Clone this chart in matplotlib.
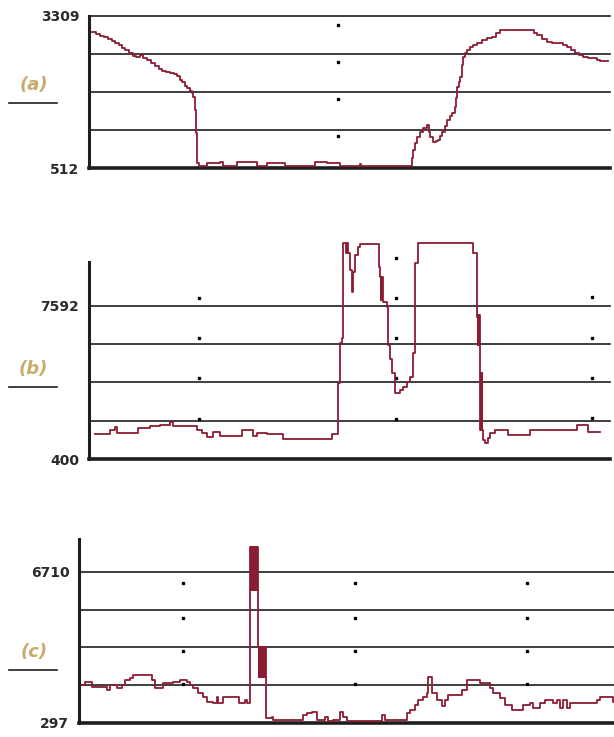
import matplotlib.pyplot as plt
from matplotlib.lines import Line2D

# ---- data (time index vs. value) ----
a_x = [3, 7, 11, 15, 19, 23, 26, 30, 33, 36, 40, 44, 47, 51, 54, 58, 62, 66, 70, 73, 77, 81, 85,
       88, 91, 93, 96, 98, 101, 103, 104, 106, 107, 108, 110,
       118, 131, 134, 148, 168, 178, 196, 226, 238, 251, 271, 272, 321,
       323, 324, 326, 328, 331, 334, 338, 340, 341, 344, 347, 349, 351, 353, 356, 358, 361, 363,
       366, 367, 368, 370, 371, 373, 374, 376, 378, 381, 384, 388, 393, 398, 403, 407, 411, 441,
       445, 448, 453, 458, 463, 469, 474, 478, 482, 486, 490, 494, 499, 504, 508, 511, 519]
a_y = [3014, 2980, 2940, 2922, 2885, 2850, 2812, 2770, 2720, 2683, 2630, 2580, 2560, 2591, 2540,
       2499, 2440, 2390, 2330, 2297, 2280, 2260, 2240, 2200, 2130, 2094, 2030, 1984, 1930, 1892,
       1818, 1579, 1156, 604, 549,
       604, 622, 549, 622, 549, 604, 549, 622, 604, 549, 585, 549, 549,
       700, 850, 972, 1080, 1174, 1240, 1303, 1180, 1082, 990, 1000, 1027, 1100, 1174, 1290, 1395,
       1460, 1524, 1634, 1800, 2002, 2100, 2186, 2400, 2554, 2620, 2683, 2730, 2775, 2820, 2867,
       2895, 2922, 2990, 3051, 3051,
       3000, 2959, 2890, 2830, 2820, 2812, 2770, 2738, 2680, 2628, 2590, 2554, 2545, 2536, 2500,
       2481, 2481]

b_x = [6, 21, 26, 28, 49, 61, 71, 81, 84, 108, 113, 118, 124, 131, 153, 164, 168, 178, 194,
       243, 249, 251, 253, 254, 257, 258, 259, 261, 263, 264, 266, 269, 271, 289, 290,
       291, 291.5, 292, 292.5, 293, 293.5, 294, 298, 299, 301, 303, 306, 311, 314, 318, 321, 324,
       326, 329, 383, 384, 388, 388.5, 389, 389.5, 390, 390.5, 391, 391.5, 392, 392.5, 393,
       394, 396, 399, 401, 406, 419, 441, 488, 499, 511]
b_y = [1574, 1762, 1902, 1621, 1855, 1950, 1996, 2137, 1950, 1762, 1621, 1433, 1668, 1480, 1762,
       1480, 1621, 1574, 1339,
       1574, 3968, 5846, 6081, 10540, 10072, 10540, 10072, 9274, 8240, 9180, 9978, 10353, 10494,
       10494, 9414,
       8945, 7865, 8945, 7865, 8945, 7865, 7771, 7536, 5752, 5100, 4438, 3499, 3640, 3780, 4015,
       4250, 5377,
       9602, 10540, 10540, 10072, 7067, 5752, 7161, 5752, 7161, 4438, 1762, 4438, 1762, 4438, 1762,
       1292, 1151, 1386, 1621, 1762, 1527, 1762, 1996, 1668, 1668]

c_x = [3, 6, 13, 28, 31, 38, 43, 46, 51, 54, 73, 76, 84, 94, 101, 108, 111, 114, 119, 124, 128,
       134, 138, 139, 144, 160, 166, 168,
       171, 171.5, 172, 172.5, 173, 173.5, 174, 174.5, 175, 175.5, 176, 176.5, 177, 177.5, 178,
       178.5, 179, 179.5, 180, 180.5, 181, 181.5, 182, 182.5, 183, 183.5, 184, 184.5, 185, 185.5,
       186, 187, 193, 194, 224, 228, 233, 238, 246, 249, 254, 261, 264, 268, 303, 306,
       328, 331, 336, 339, 344, 348, 349, 353, 358, 363, 366, 369, 383, 388, 401, 411, 414,
       421, 426, 433, 444, 451, 454, 461, 466, 474, 478, 481, 484, 488, 491, 518, 521, 531, 534,
       535]
c_y = [1911, 2038, 1826, 1698, 1911, 1783, 1911, 2123, 2208, 2335, 2123, 1783, 1996, 2038, 2123,
       2038, 1911, 1783, 1571, 1401, 1189, 1146, 1401, 1146, 1401, 1146, 1274, 1146,
       7772, 5946, 7772, 5946, 7772, 5946, 7772, 5946, 7772, 5946, 7772, 5946, 7772, 5946, 7772,
       5946, 3525, 2250, 3525, 2250, 3525, 2250, 3525, 2250, 3525, 2250, 3525, 2250, 3525, 2250,
       3525, 509, 552, 424, 637, 722, 764, 424, 552, 382, 424, 764, 552, 382, 637, 424,
       722, 849, 1061, 1274, 1401, 1571, 2250, 1571, 1274, 1019, 1274, 1486, 1698, 2123, 1996, 1783,
       1571, 1359, 1061, 849, 1061, 1146, 934, 1146, 1274, 1146, 1274, 934, 1274, 934, 1146, 1274,
       1401, 1401, 1189, 1189]

a_ticks = [512, 3309]
b_ticks = [400, 7592]
c_ticks = [297, 6710]

a_dots_x = [249] * 4
a_dots_y = [3143, 2462, 1782, 1101]
b_dots_x = [110] * 4 + [307] * 5 + [503] * 4
b_dots_y = [7959, 6081, 4203, 2278, 9837, 7959, 6081, 4203, 2278, 8006, 6081, 4203, 2325]
c_dots_x = [104] * 4 + [276] * 4 + [448] * 4
c_dots_y = [6243, 4756, 3355, 1953] * 3

LINE = '#8c1c33'
GRID = '#1e1e1e'
GOLD = '#c9aa6c'
TICKFONT = ['DejaVu Sans Condensed', 'Liberation Sans Narrow', 'DejaVu Sans']

fig = plt.figure(figsize=(6.14, 7.37), dpi=100)


def panel(rect, xs, ys, ticks, xlim, ylim, spine_top, dx, dy, label, label_y, line_y, n_grid=4):
    ax = fig.add_axes(rect)
    lo, hi = ticks
    step = (hi - lo) / n_grid
    for k in range(1, n_grid + 1):
        ax.axhline(lo + k * step, color=GRID, lw=1.2, zorder=1, clip_on=False)
    ax.axhline(lo, color=GRID, lw=2.6, zorder=1, clip_on=False)
    ax.plot(xs, ys, drawstyle='steps-post', color=LINE, lw=1.3, zorder=3, clip_on=False)
    ax.plot(dx, dy, 's', color='black', ms=2.0, zorder=2, clip_on=False)
    ax.set_xlim(*xlim)
    ax.set_ylim(*ylim)
    for s in ['top', 'right', 'bottom']:
        ax.spines[s].set_visible(False)
    ax.spines['left'].set_linewidth(2.2)
    ax.spines['left'].set_color(GRID)
    ax.spines['left'].set_bounds(lo, spine_top)
    ax.set_xticks([])
    ax.set_yticks(ticks)
    ax.set_yticklabels([str(t) for t in ticks])
    ax.tick_params(axis='y', length=0, pad=7, labelsize=10, labelcolor='#2a2a2a')
    for t in ax.get_yticklabels():
        t.set_fontweight('bold')
        t.set_fontfamily(TICKFONT)
    ax.patch.set_alpha(0)
    fig.text(0.055, 1 - label_y / 737, label, color=GOLD, fontsize=13, fontweight='bold',
             fontstyle='italic', ha='center', va='center')
    fig.add_artist(Line2D([9 / 614, 57 / 614], [1 - line_y / 737] * 2, color=GRID, lw=1.2))
    return ax


# panel (a)
panel([89 / 614, 1 - 168 / 737, 521 / 614, 152 / 737], a_x, a_y, a_ticks, (0, 521),
      (512, 3309), 3309, a_dots_x, a_dots_y, '(a)', 85, 103)

# panel (b)
panel([89 / 614, 1 - 459 / 737, 521 / 614, 221 / 737], b_x, b_y, b_ticks, (0, 521),
      (400, 10776), 9649, b_dots_x, b_dots_y, '(b)', 369, 387)

# panel (c)
panel([79 / 614, 1 - 723 / 737, 535 / 614, 184 / 737], c_x, c_y, c_ticks, (0, 535),
      (297, 8111), 8111, c_dots_x, c_dots_y, '(c)', 652, 670)

fig.savefig('out.png', dpi=100)
